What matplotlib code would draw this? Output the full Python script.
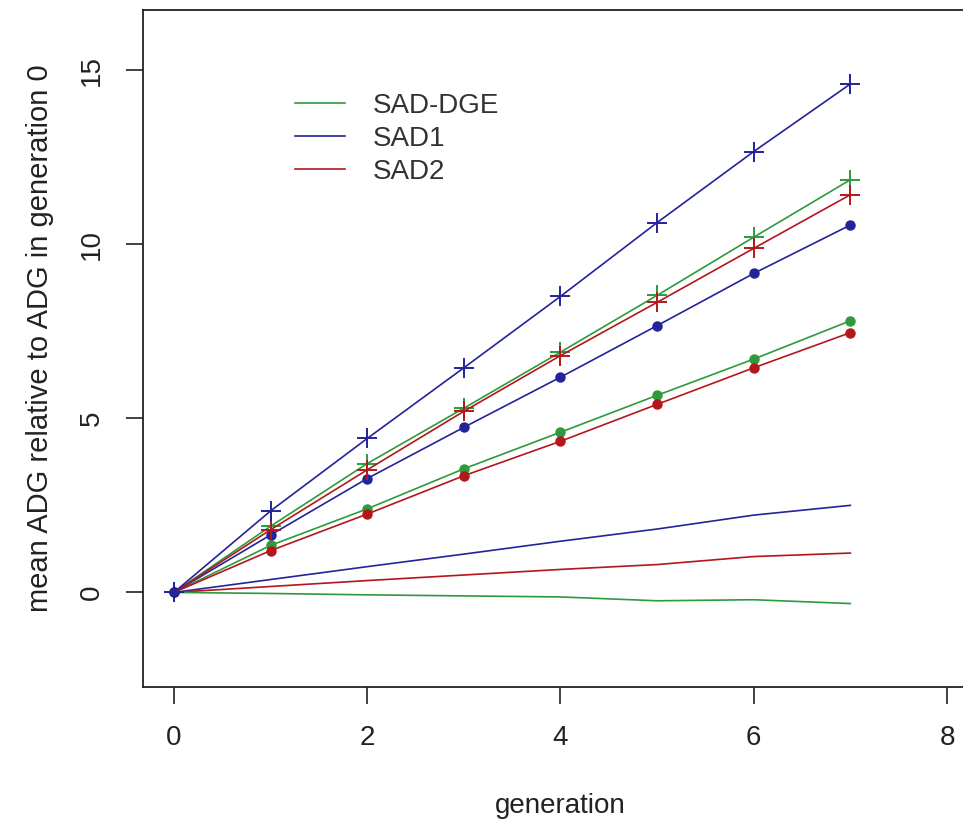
import matplotlib
matplotlib.use("Agg")
from matplotlib import pyplot as plt

gen = [0, 1, 2, 3, 4, 5, 6, 7]

# "+" series
sad1_plus = [0, 2.34, 4.42, 6.45, 8.5, 10.62, 12.66, 14.6]
dge_plus = [0, 1.9, 3.7, 5.29, 6.9, 8.53, 10.2, 11.85]
sad2_plus = [0, 1.8, 3.52, 5.2, 6.8, 8.33, 9.88, 11.42]

# dot series
sad1_dot = [0, 1.65, 3.27, 4.74, 6.18, 7.66, 9.16, 10.55]
dge_dot = [0, 1.35, 2.4, 3.55, 4.6, 5.66, 6.7, 7.8]
sad2_dot = [0, 1.2, 2.25, 3.35, 4.34, 5.4, 6.45, 7.46]

# plain lines
sad1_line = [0, 0.37, 0.74, 1.1, 1.47, 1.82, 2.22, 2.5]
sad2_line = [0, 0.17, 0.34, 0.5, 0.66, 0.8, 1.03, 1.13]
dge_line = [0, -0.03, -0.07, -0.1, -0.13, -0.24, -0.21, -0.32]

green = '#2e9a3c'
blue = '#23239a'
red = '#b3171b'

plt.rcParams['font.family'] = ['Liberation Sans', 'DejaVu Sans']

fig = plt.figure(figsize=(9.63, 8.19), dpi=100)
ax = fig.add_axes([0.1485, 0.161, 0.867, 0.8266])

lw = 1.2
ms_plus = 15
ms_dot = 6.5

ax.plot(gen, sad1_line, color=blue, lw=lw)
ax.plot(gen, sad2_line, color=red, lw=lw)
ax.plot(gen, dge_line, color=green, lw=lw)

ax.plot(gen, dge_dot, color=green, lw=lw, marker='o', ms=ms_dot)
ax.plot(gen, sad2_dot, color=red, lw=lw, marker='o', ms=ms_dot)
ax.plot(gen, sad1_dot, color=blue, lw=lw, marker='o', ms=ms_dot)

ax.plot(gen, dge_plus, color=green, lw=lw, marker='+', ms=ms_plus, mew=1.4)
ax.plot(gen, sad2_plus, color=red, lw=lw, marker='+', ms=ms_plus, mew=1.4)
ax.plot(gen, sad1_plus, color=blue, lw=lw, marker='+', ms=ms_plus, mew=1.4)

ax.set_xlim(-0.32, 8.32)
ax.set_ylim(-2.72, 16.72)
ax.set_xticks([0, 2, 4, 6, 8])
ax.set_yticks([0, 5, 10, 15])
ax.tick_params(direction='out', length=12.5, width=1.2, pad=15,
               labelsize=20, colors='#222222')
for lab in ax.get_yticklabels():
    lab.set_rotation(90)
    lab.set_va('center')
for s in ax.spines.values():
    s.set_linewidth(1.3)
    s.set_color('#222222')

ax.set_xlabel('generation', fontsize=20, labelpad=30, color='#222222')
ax.set_ylabel('mean ADG relative to ADG in generation 0', fontsize=21,
              color='#222222')
ax.yaxis.set_label_coords(-0.107, 0.515)

# legend without frame
handles = [plt.Line2D([], [], color=green, lw=lw),
           plt.Line2D([], [], color=blue, lw=lw),
           plt.Line2D([], [], color=red, lw=lw)]
ax.legend(handles, ['SAD-DGE', 'SAD1', 'SAD2'], frameon=False, fontsize=20,
          loc='upper left', bbox_to_anchor=(0.182, 0.878), borderaxespad=0,
          borderpad=0, handlelength=1.8, handletextpad=1.0,
          labelspacing=0.25, labelcolor='#333333')

fig.savefig('out.png', dpi=100)
